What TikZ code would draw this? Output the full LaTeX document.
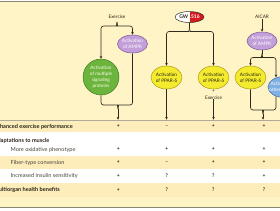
\documentclass[tikz,border=0pt]{standalone}
\usepackage{fontspec}
\setmainfont{Lato}
\usetikzlibrary{shapes.geometric,arrows.meta}
\definecolor{bgy}{HTML}{FFF4C6}
\definecolor{bandy}{HTML}{FCEDBA}
\definecolor{linec}{HTML}{2E2A20}
\definecolor{rulec}{HTML}{8A8570}
\definecolor{greenf}{HTML}{6DB43E}
\definecolor{greend}{HTML}{3E7D22}
\definecolor{purpf}{HTML}{C39FD9}
\definecolor{purpd}{HTML}{7D5A9C}
\definecolor{yelf}{HTML}{F4EB2E}
\definecolor{yeld}{HTML}{A99A1E}
\definecolor{bluef}{HTML}{7FB0E3}
\definecolor{blued}{HTML}{3E6EA8}
\definecolor{gwred}{HTML}{D6181F}
\definecolor{txtd}{HTML}{2B2418}
\tikzset{
 conn/.style={draw=linec, line width=0.65pt},
 arr/.style={conn, -{Stealth[length=2.8pt,width=2.6pt]}},
 nodetext/.style={font=\fontsize{4.7}{5.9}\selectfont, align=center, inner sep=0pt},
 greenc/.style={circle, nodetext, fill=greenf, draw=greend, line width=0.5pt, minimum size=36pt, text=white!92!yellow},
 purpe/.style={ellipse, nodetext, fill=purpf, draw=purpd, line width=0.5pt, minimum width=30pt, minimum height=18pt, text=white},
 yele/.style={ellipse, nodetext, fill=yelf, draw=yeld, line width=0.5pt, minimum width=31pt, minimum height=23pt, text=txtd},
 bluee/.style={ellipse, nodetext, fill=bluef, draw=blued, line width=0.5pt, minimum width=32pt, minimum height=21pt, text=white, inner xsep=-5.5pt},
 gwnode/.style={ellipse, font=\fontsize{5}{5.5}\selectfont\bfseries, inner sep=0pt, fill=white, draw=linec, line width=0.5pt, minimum width=27pt, minimum height=11pt,
   path picture={\fill[gwred] (path picture bounding box.north) rectangle (path picture bounding box.south east);}},
 lbl/.style={nodetext, text=txtd},
 head/.style={font=\fontsize{5.6}{6}\selectfont\bfseries, anchor=west, inner sep=0pt, text=txtd},
 subrow/.style={font=\fontsize{5.6}{6}\selectfont, anchor=west, inner sep=0pt, text=txtd!85},
 sign/.style={font=\fontsize{5}{6}\selectfont\bfseries, inner sep=0pt, text=txtd},
}
\begin{document}
\begin{tikzpicture}[x=1pt,y=-1pt]
\useasboundingbox (0,0) rectangle (280,210);
\clip (0,0) rectangle (280,210);
% background and table bands
\fill[white!94!bgy] (0,0) rectangle (280,210);
\fill[bgy] (0,2) rectangle (280,207.5);
\fill[bandy] (0,120) rectangle (280,132);
\fill[white] (0,132) rectangle (280,156);
\fill[bandy] (0,156) rectangle (280,169);
\fill[white] (0,169) rectangle (280,183);
\fill[bandy] (0,183) rectangle (280,197);
\draw[rulec, line width=0.9pt] (0,1.5) -- (280,1.5);
\draw[rulec, line width=0.9pt] (0,207.8) -- (280,207.8);
\draw[rulec!70, line width=0.5pt] (0,120) -- (280,120);

% ---- nodes ----
\node[lbl] (ex1) at (117,16.7) {Exercise};
\node[purpe] (ampk1) at (132.5,44) {Activation\\of AMPK};
\node[greenc] (sig) at (101,77) {Activation\\of multiple\\signaling\\proteins};
\node[gwnode] (gw) at (189.5,17) {{\color{txtd}GW}{\color{white}1516}};
\node[yele] (pp2) at (166.5,77.5) {Activation\\of PPAR-δ};
\node[yele] (pp3) at (213.5,77.5) {Activation\\of PPAR-δ};
\node[lbl] (plus3) at (213.5,91) {+};
\node[lbl] (ex3) at (213.5,97.3) {Exercise};
\node[lbl] (aicar) at (262,16.5) {AICAR};
\node[purpe] (ampk4) at (262,41) {Activation\\of AMPK};
\node[yele] (pp4) at (250.5,77.5) {Activation\\of PPAR-δ};
\node[bluee] (oth) at (284,87) {Activation of\\other proteins};

% ---- coordinates ----
\coordinate (b1) at (117,22);
\coordinate (k1) at (118,109);
\coordinate (e1) at (118,119.6);
\coordinate (b2) at (189.5,27.5);
\coordinate (e2) at (166.5,119.6);
\coordinate (e3) at (213.5,119.6);
\coordinate (b4) at (262,53.5);
\coordinate (o4) at (276,77.3);
\coordinate (o4b) at (276,96.3);
\coordinate (k4) at (263,114);
\coordinate (e4) at (263,119.6);

% ---- column 1 ----
\draw[arr, rounded corners=2.5pt] (b1) to[out=-90,in=0] (114,26) -| (sig.north);
\draw[arr, rounded corners=2.5pt] (b1) to[out=-90,in=180] (120,26) -| (ampk1.north);
\draw[conn, rounded corners=2.5pt] (sig.south) |- (115,105) to[out=0,in=90] (k1);
\draw[conn, rounded corners=2.5pt] (ampk1.south) |- (121,105) to[out=180,in=90] (k1);
\draw[arr] (k1) -- (e1);

% ---- column 2 / 3 ----
\draw[conn] (gw.south) -- (b2);
\draw[arr, rounded corners=2.5pt] (b2) to[out=-90,in=0] (186.5,31.5) -| (pp2.north);
\draw[arr, rounded corners=2.5pt] (b2) to[out=-90,in=180] (192.5,31.5) -| (pp3.north);
\draw[arr] (pp2.south) -- (e2);
\draw[arr] (ex3.south) -- (e3);

% ---- column 4 ----
\draw[arr, shorten <=1pt] (aicar.south) -- (ampk4.north);
\draw[conn] (ampk4.south) -- (b4);
\draw[arr, rounded corners=2.5pt] (b4) to[out=-90,in=0] (259,57.5) -| (pp4.north);
\draw[arr, rounded corners=2.5pt] (b4) to[out=-90,in=180] (265,57.5) -| (o4);
\draw[conn, rounded corners=2.5pt] (pp4.south) |- (260,110) to[out=0,in=90] (k4);
\draw[conn, rounded corners=2.5pt] (o4b) |- (266,110) to[out=180,in=90] (k4);
\draw[arr] (k4) -- (e4);

% ---- table ----
\node[head] (r1) at (-6.5,126.5) {Enhanced exercise performance};
\node[head] (r2) at (-6.5,141) {Adaptations to muscle};
\node[subrow] (r3) at (10.5,149.5) {More oxidative phenotype};
\node[subrow] (r4) at (10.5,162.5) {Fiber-type conversion};
\node[subrow] (r5) at (10.5,176) {Increased insulin sensitivity};
\node[head] (r6) at (-6.5,190) {Multiorgan health benefits};

\foreach \y/\a/\b/\c/\d/\n in {126.5/+/\textendash/+/+/1, 149.5/+/+/+/+/3, 162.5/+/\textendash/+/+/4, 176/+/?/?/+/5, 190/+/?/?/?/6}{
  \node[sign] (s\n a) at (118.3,\y) {\a};
  \node[sign] (s\n b) at (166.7,\y) {\b};
  \node[sign] (s\n c) at (213.3,\y) {\c};
  \node[sign] (s\n d) at (264,\y) {\d};
}
\end{tikzpicture}
\end{document}
